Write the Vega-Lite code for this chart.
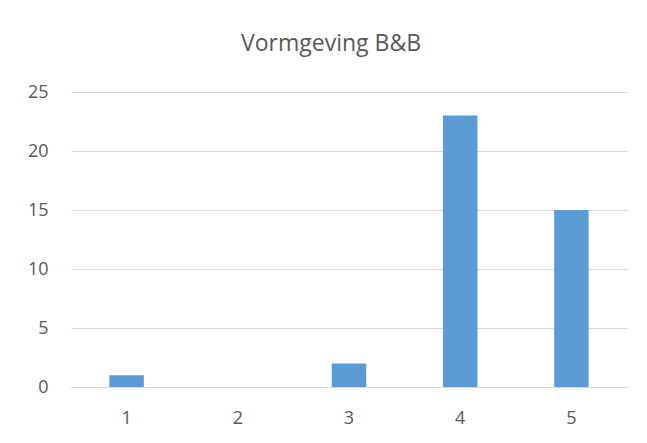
{
  "$schema": "https://vega.github.io/schema/vega-lite/v6.json",
  "autosize": "none",
  "width": 556,
  "height": 295,
  "padding": {"left": 71, "top": 92, "right": 20, "bottom": 56},
  "background": "white",
  "title": {
    "text": "Vormgeving B&B",
    "font": "Open Sans",
    "fontSize": 23,
    "fontWeight": "normal",
    "color": "#595959",
    "anchor": "middle",
    "baseline": "alphabetic",
    "offset": 9,
    "dx": -18
  },
  "data": {
    "values": [
      {"score": "1", "count": 1},
      {"score": "2", "count": 0},
      {"score": "3", "count": 2},
      {"score": "4", "count": 23},
      {"score": "5", "count": 15}
    ]
  },
  "mark": {"type": "bar", "color": "#5b9bd5"},
  "encoding": {
    "x": {
      "field": "score",
      "type": "ordinal",
      "scale": {"paddingInner": 0.69, "paddingOuter": 0.345},
      "axis": {
        "title": null,
        "labelAngle": 0,
        "ticks": false,
        "domainColor": "#d9d9d9",
        "domainWidth": 1,
        "labelFont": "Open Sans",
        "labelFontSize": 18,
        "labelColor": "#595959",
        "labelPadding": 22
      }
    },
    "y": {
      "field": "count",
      "type": "quantitative",
      "scale": {"domain": [0, 25], "nice": false},
      "axis": {
        "title": null,
        "values": [0, 5, 10, 15, 20, 25],
        "ticks": false,
        "domain": false,
        "gridColor": "#d9d9d9",
        "gridWidth": 1,
        "labelFont": "Open Sans",
        "labelFontSize": 18,
        "labelColor": "#595959",
        "labelPadding": 23
      }
    }
  },
  "config": {"view": {"stroke": null}}
}
